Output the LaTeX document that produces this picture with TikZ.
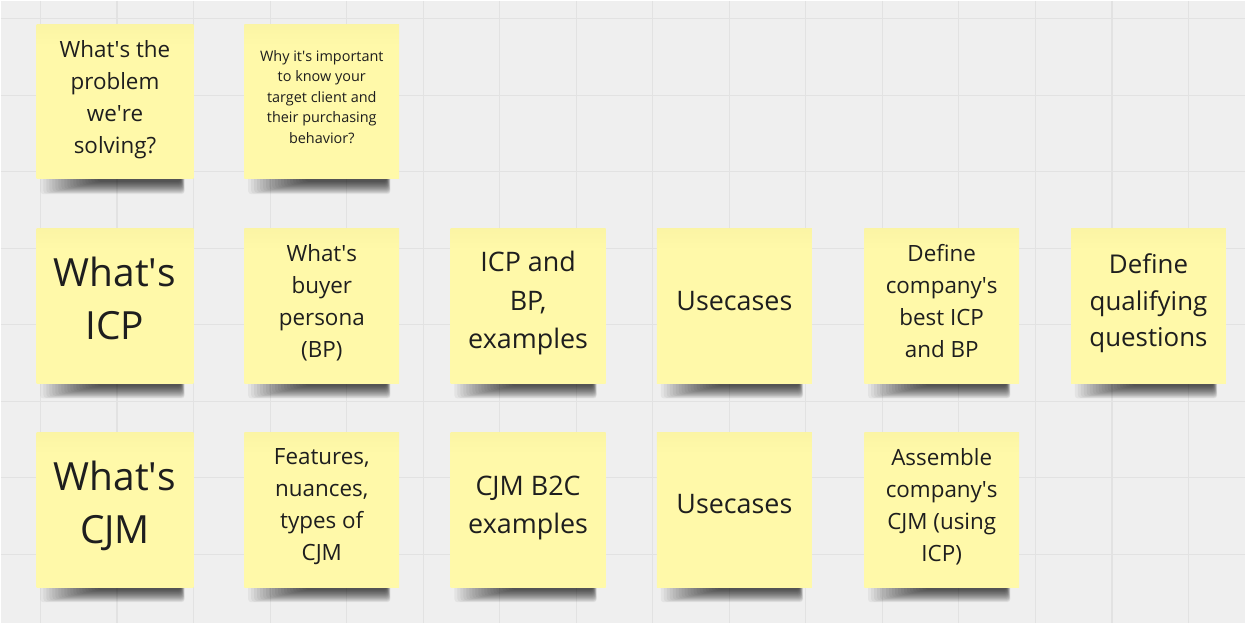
\documentclass[tikz,border=0pt]{standalone}
\usepackage{fontspec}
\setmainfont{Open Sans}
\usetikzlibrary{calc}
\definecolor{bgc}{HTML}{EFEFEF}
\definecolor{gridc}{HTML}{E2E2E2}
\definecolor{noteY}{HTML}{FFF9A9}
\definecolor{noteTop}{HTML}{F3EC9C}
\definecolor{txt}{HTML}{1E1E1E}
\pgfdeclarelayer{gridl}
\pgfdeclarelayer{shadl}
\pgfsetlayers{gridl,shadl,main}
\pgfdeclareverticalshading{notesh}{100bp}{color(0bp)=(noteY); color(68bp)=(noteY); color(88bp)=(noteTop); color(100bp)=(noteTop)}
\newcommand\aps{\textquotesingle}
\begin{document}
\begin{tikzpicture}[x=1bp,y=-1bp,
  sticky/.style={shading=notesh, minimum width=155bp, minimum height=155bp, inner sep=0pt},
  tbase/.style={align=center, text=txt, inner sep=0pt},
  fA/.style={tbase, font=\fontsize{22.5}{32}\selectfont},
  fS/.style={tbase, font=\fontsize{14.5}{20.5}\selectfont},
  fL/.style={tbase, font=\fontsize{39}{53}\selectfont},
  fM/.style={tbase, font=\fontsize{27}{38.5}\selectfont},
  fQ/.style={tbase, font=\fontsize{26}{36.5}\selectfont},
  gridline/.style={draw=gridc, line width=1.2bp},
  shadowpiece/.style={fill=black, opacity=0.046, rounded corners=3bp}]
\begin{pgfonlayer}{gridl}
  \fill[bgc] (0,0) rectangle (1246,623);
  \foreach \k in {0,...,15} \draw[gridline] ({40+76.6*\k},0) -- ({40+76.6*\k},623);
  \foreach \k in {0,...,7} \draw[gridline] (0,{18+76.6*\k}) -- (1246,{18+76.6*\k});
\end{pgfonlayer}
\useasboundingbox (0,0) rectangle (1246,623);

% row 1
\node[sticky, minimum width=157bp, label={[fA, yshift=2bp]center:{What\aps s the\\problem\\we\aps re\\solving?}}] (n1) at (114.5,101) {};
\node[sticky, label={[fS, yshift=4.5bp]center:{Why it\aps s important\\to know your\\target client and\\their purchasing\\behavior?}}] (n2) at (321.5,101) {};
% row 2
\node[sticky, minimum width=157bp, label={[fL, yshift=7bp]center:{What\aps s\\ICP}}] (a1) at (114.5,305.5) {};
\node[sticky, label={[fA, yshift=3bp]center:{What\aps s\\buyer\\persona\\(BP)}}] (a2) at (321.5,305.5) {};
\node[sticky, label={[fM, yshift=2.5bp]center:{ICP and\\BP,\\examples}}] (a3) at (528,305.5) {};
\node[sticky, label={[fM, yshift=5bp]center:{Usecases}}] (a4) at (734.5,305.5) {};
\node[sticky, label={[fA, yshift=5bp]center:{Define\\company\aps s\\best ICP\\and BP}}] (a5) at (942,305.5) {};
\node[sticky, label={[fQ, yshift=2.5bp]center:{Define\\qualifying\\questions}}] (a6) at (1149,305.5) {};
% row 3
\node[sticky, minimum width=157bp, label={[fL, yshift=4bp]center:{What\aps s\\CJM}}] (b1) at (114.5,509.5) {};
\node[sticky, label={[fA, yshift=3bp]center:{Features,\\nuances,\\types of\\CJM}}] (b2) at (321.5,509.5) {};
\node[sticky, label={[fM, yshift=1.5bp]center:{CJM B2C\\examples}}] (b3) at (528,509.5) {};
\node[sticky, label={[fM, yshift=5.5bp]center:{Usecases}}] (b4) at (734.5,509.5) {};
\node[sticky, label={[fA, yshift=3bp]center:{Assemble\\company\aps s\\CJM (using\\ICP)}}] (b5) at (942,509.5) {};

\begin{pgfonlayer}{shadl}
  \foreach \n in {n1,n2,a1,a2,a3,a4,a5,a6,b1,b2,b3,b4,b5} {
    \foreach \i in {0,...,19} {
      \fill[shadowpiece] ($(\n.south west)+({4+\i*3},-4)$) rectangle ($(\n.south east)+({-9-\i*0.2},{15-\i*0.65})$);
    }
  }
\end{pgfonlayer}
\end{tikzpicture}
\end{document}
